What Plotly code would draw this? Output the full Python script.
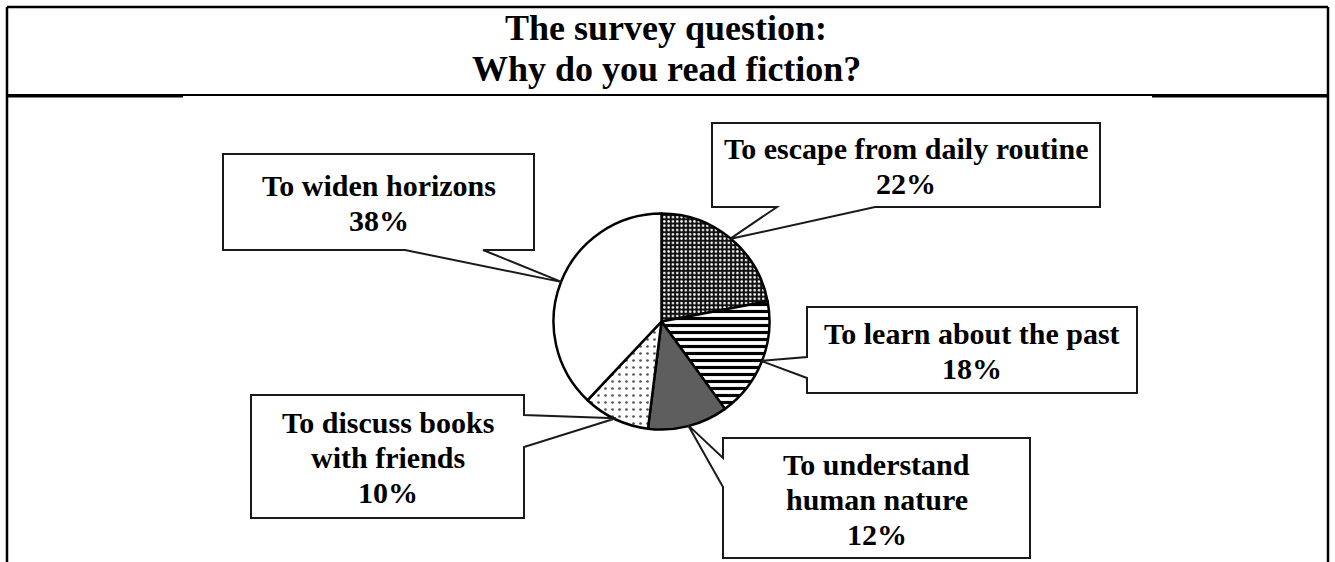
import math
import plotly.graph_objects as go

# ---------------- data ----------------
categories = ["To escape from daily routine", "To learn about the past",
              "To understand human nature", "To discuss books with friends",
              "To widen horizons"]
values = [22, 18, 12, 10, 38]
callout_text = [["To escape from daily routine"],
                ["To learn about the past"],
                ["To understand", "human nature"],
                ["To discuss books", "with friends"],
                ["To widen horizons"]]
title_lines = ["The survey question:", "Why do you read fiction?"]

# ---------------- layout / style ----------------
W, H = 1335, 562
CX, CY, R = 661.5, 321.5, 108.0
FONT = "Liberation Serif"

# callout boxes: (x0, y0, x1, y1), side of pointer, base coordinates on that side
boxes = [((712, 123, 1100, 207), "bottom", (777, 875)),
         ((807, 307, 1137, 393), "left", (357, 378)),
         ((723, 438, 1030, 558), "left", (458, 487)),
         ((251, 395, 524, 518), "right", (415, 447)),
         ((223, 154, 534, 250), "bottom", (405, 483))]

colors = ["#111111", "#ffffff", "#5e5e5e", "#ffffff", "#ffffff"]
pattern = dict(shape=[".", "-", "", ".", ""],
               fgcolor=["#ffffff", "#000000", "#5e5e5e", "#555555", "#ffffff"],
               bgcolor=["#111111", "#ffffff", "#5e5e5e", "#ffffff", "#ffffff"],
               size=[4.3, 7, 8, 7, 8],
               solidity=[0.28, 0.45, 0.3, 0.12, 0.3],
               fillmode="replace")


def px(x):
    return x / W


def py(y):
    return 1 - y / H


fig = go.Figure()
fig.add_trace(go.Pie(
    labels=categories, values=values, sort=False, direction="clockwise",
    rotation=0, textinfo="none", hoverinfo="label+percent", showlegend=False,
    marker=dict(colors=colors, line=dict(color="black", width=2.5), pattern=pattern),
    domain=dict(x=[px(CX - R), px(CX + R)], y=[py(CY + R), py(CY - R)]),
))

shapes = []
annotations = []

# frame
frame_lines = [((7, 7), (1328, 7), 2.5), ((7, 7), (7, H), 2.5), ((1328, 7), (1328, H), 2.5),
               ((7, 95), (1328, 95), 2.2), ((7, 96.5), (183, 96.5), 2), ((1152, 96.5), (1328, 96.5), 2)]
for (a, b, w) in frame_lines:
    shapes.append(dict(type="line", xref="paper", yref="paper", x0=px(a[0]), y0=py(a[1]),
                       x1=px(b[0]), y1=py(b[1]), line=dict(color="black", width=w)))

for i, t in enumerate(title_lines):
    annotations.append(dict(text="<b>%s</b>" % t, xref="paper", yref="paper",
                            x=px(666), y=py(27.5 + 41.5 * i), xanchor="center", yanchor="middle",
                            showarrow=False, font=dict(family=FONT, size=36, color="black")))

# callouts
total = sum(values)
cum = 0
for i, v in enumerate(values):
    mid = 2 * math.pi * (cum + v / 2) / total
    cum += v
    tip = (CX + (R - 1) * math.sin(mid), CY - (R - 1) * math.cos(mid))
    (x0, y0, x1, y1), side, bases = boxes[i]
    corners = [(x0, y0), (x1, y0), (x1, y1), (x0, y1)]
    b_lo, b_hi = min(bases), max(bases)
    if side == "top":
        ins, pts = 0, [(b_lo, y0), tip, (b_hi, y0)]
    elif side == "right":
        ins, pts = 1, [(x1, b_lo), tip, (x1, b_hi)]
    elif side == "bottom":
        ins, pts = 2, [(b_hi, y1), tip, (b_lo, y1)]
    else:
        ins, pts = 3, [(x0, b_hi), tip, (x0, b_lo)]
    poly = corners[:ins + 1] + pts + corners[ins + 1:]
    path = "M " + " L ".join("%.5f,%.5f" % (px(a), py(b)) for a, b in poly) + " Z"
    shapes.append(dict(type="path", xref="paper", yref="paper", path=path,
                       fillcolor="white", line=dict(color="#1a1a1a", width=2), layer="above"))
    lines = callout_text[i] + ["%d%%" % v]
    n = len(lines)
    cxb, cyb = (x0 + x1) / 2, (y0 + y1) / 2 + 1
    for k, line in enumerate(lines):
        annotations.append(dict(text="<b>%s</b>" % line, xref="paper", yref="paper",
                                x=px(cxb), y=py(cyb + (k - (n - 1) / 2) * 35),
                                xanchor="center", yanchor="middle", showarrow=False,
                                font=dict(family=FONT, size=30, color="black")))

fig.update_layout(width=W, height=H, margin=dict(l=0, r=0, t=0, b=0),
                  paper_bgcolor="white", plot_bgcolor="white",
                  shapes=shapes, annotations=annotations)
fig.write_html("out.html", config={"displayModeBar": False},
               post_script="document.body.style.margin='0';document.body.style.overflow='hidden';")
